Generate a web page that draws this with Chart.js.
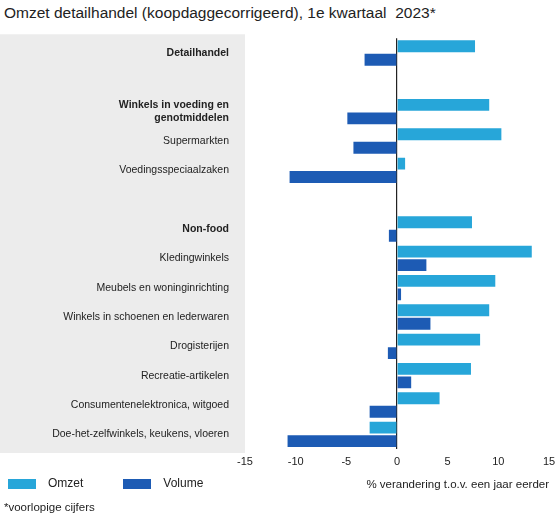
<!DOCTYPE html>
<html><head><meta charset="utf-8">
<script src="https://cdn.jsdelivr.net/npm/chart.js@4/dist/chart.umd.min.js"></script>
<style>
body{margin:0;background:#fff;font-family:"Liberation Sans",Arial,sans-serif;}
#title{position:absolute;left:4px;top:4px;font-size:15.5px;color:#222;}
#wrap{position:absolute;left:0;top:24px;width:555px;height:472px;}
#legend{position:absolute;left:8px;top:476px;font-size:12px;color:#222;}
#legend span.b{display:inline-block;width:28px;height:10px;margin-right:12px;vertical-align:middle;}
#foot{position:absolute;left:4px;top:501px;font-size:11.5px;color:#222;}
</style></head><body>
<div id="title">Omzet detailhandel (koopdaggecorrigeerd), 1e kwartaal &nbsp;2023*</div>
<div id="wrap"><canvas id="c"></canvas></div>
<div id="legend"><span class="b" style="background:#27a6d9"></span>Omzet<span style="display:inline-block;width:40px"></span><span class="b" style="background:#1d5bb4"></span>Volume</div>
<div id="foot">*voorlopige cijfers</div>
<script>
const categories = ['Detailhandel', '', ['Winkels in voeding en', 'genotmiddelen'], 'Supermarkten', 'Voedingsspeciaalzaken', '',
  'Non-food', 'Kledingwinkels', 'Meubels en woninginrichting', 'Winkels in schoenen en lederwaren', 'Drogisterijen',
  'Recreatie-artikelen', 'Consumentenelektronica, witgoed', 'Doe-het-zelfwinkels, keukens, vloeren'];
const boldRows = [0, 2, 6];
const omzet = [7.7, null, 9.1, 10.3, 0.8, null, 7.4, 13.3, 9.7, 9.1, 8.2, 7.3, 4.2, -2.7];
const volume = [-3.2, null, -4.9, -4.3, -10.6, null, -0.8, 2.9, 0.4, 3.3, -0.9, 1.4, -2.7, -10.8];
const xTicks = [-15, -10, -5, 0, 5, 10, 15];

const panel = {
  id: 'panel',
  beforeDraw(chart) {
    const {ctx, chartArea} = chart;
    ctx.save();
    ctx.fillStyle = '#ececec';
    ctx.fillRect(0, chartArea.top - 4, chartArea.left, chartArea.bottom - chartArea.top + 8);
    ctx.restore();
  }
};

new Chart(document.getElementById('c'), {
  type: 'bar',
  data: {
    labels: categories,
    datasets: [
      {label: 'Omzet', data: omzet, backgroundColor: '#27a6d9', barPercentage: 0.88, categoryPercentage: 0.92},
      {label: 'Volume', data: volume, backgroundColor: '#1d5bb4', barPercentage: 0.88, categoryPercentage: 0.92}
    ]
  },
  options: {
    indexAxis: 'y',
    responsive: true,
    maintainAspectRatio: false,
    animation: false,
    layout: {padding: {top: 8, right: 0, bottom: 0}},
    plugins: {legend: {display: false}, tooltip: {enabled: false}},
    scales: {
      x: {
        min: -15, max: 15,
        afterBuildTicks: s => { s.ticks = xTicks.map(v => ({value: v})); },
        afterFit: s => { s.paddingRight = 6; },
        grid: {drawTicks: false, color: c => c.tick && c.tick.value === 0 ? '#222' : 'transparent', lineWidth: 1.2},
        border: {display: false},
        ticks: {color: '#222', font: {size: 11}, padding: 6},
        title: {display: true, text: '% verandering t.o.v. een jaar eerder', align: 'end', color: '#222', font: {size: 11.5}, padding: {top: 4}}
      },
      y: {
        afterFit: s => { s.width = 245; },
        grid: {display: false},
        border: {display: false},
        ticks: {
          color: '#222', padding: 8,
          font: c => ({size: 10.5, weight: boldRows.includes(c.index) ? 'bold' : 'normal'})
        }
      }
    }
  },
  plugins: [panel]
});
</script>
</body></html>
